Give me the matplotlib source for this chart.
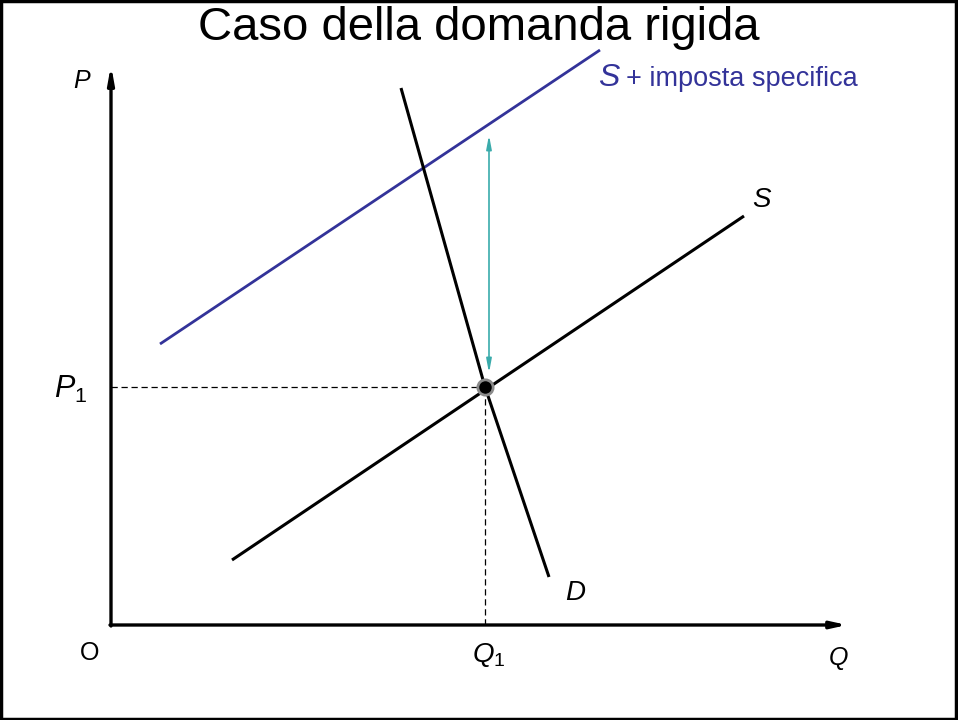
import matplotlib
matplotlib.use("Agg")
import matplotlib.pyplot as plt
from matplotlib.patches import Rectangle

plt.rcParams["font.family"] = ["Liberation Sans", "DejaVu Sans"]
plt.rcParams["mathtext.fontset"] = "custom"
plt.rcParams["mathtext.rm"] = "Liberation Sans"
plt.rcParams["mathtext.it"] = "Liberation Sans:italic"

# diagram data (Q, P)
axis_q_max = 73.6
axis_p_max = 56.0
supply_q = [12.1, 63.3]
supply_p = [6.5, 40.9]
taxed_q = [4.9, 48.9]
taxed_p = [28.1, 57.5]
demand_q = [29.0, 37.4, 43.8]
demand_p = [53.7, 23.8, 4.8]
eq_q = 37.4
eq_p = 23.8
tax_arrow_q = 37.8
tax_arrow_p = [25.2, 49.0]

BLUE = "#333399"
TEAL = "#3aabab"

fig = plt.figure(figsize=(9.58, 7.2), dpi=100)
ax = fig.add_axes([0, 0, 1, 1])
ax.set_xlim(-11.1, 84.7)
ax.set_ylim(-9.5, 62.5)
ax.axis("off")

# axes with arrows
ax.annotate("", xy=(0, axis_p_max), xytext=(0, -0.1),
            arrowprops=dict(arrowstyle="-|>,head_length=1.0,head_width=0.18",
                            lw=2.4, color="black", shrinkA=0, shrinkB=0))
ax.annotate("", xy=(axis_q_max, 0), xytext=(-0.1, 0),
            arrowprops=dict(arrowstyle="-|>,head_length=0.9,head_width=0.2",
                            lw=2.4, color="black", shrinkA=0, shrinkB=0))

# dashed guides
ax.plot([0, eq_q], [eq_p, eq_p], color="black", lw=0.9, ls=(0, (5, 3)))
ax.plot([eq_q, eq_q], [0, eq_p], color="black", lw=0.9, ls=(0, (5, 3)))

# curves
ax.plot(supply_q, supply_p, color="black", lw=2.2, solid_capstyle="butt")
ax.plot(taxed_q, taxed_p, color=BLUE, lw=2.0, solid_capstyle="butt")
ax.plot(demand_q, demand_p, color="black", lw=2.2, solid_capstyle="butt")

# tax arrow
ax.annotate("", xy=(tax_arrow_q, tax_arrow_p[1]), xytext=(tax_arrow_q, tax_arrow_p[0]),
            arrowprops=dict(arrowstyle="<|-|>,head_length=0.8,head_width=0.15",
                            lw=1.2, color=TEAL, shrinkA=0, shrinkB=0))

# equilibrium
ax.plot([eq_q], [eq_p], "o", ms=11, mfc="black", mec="#8a8a8a", mew=2.0, zorder=5)

# labels
ax.text(-2.9, 54.4, "$P$", fontsize=18, ha="center", va="center")
ax.text(-4.0, 23.6, "$P_1$", fontsize=22, ha="center", va="center")
ax.text(-2.1, -2.8, "O", fontsize=18, ha="center", va="center")
ax.text(eq_q + 0.4, -3.0, "$Q_1$", fontsize=20, ha="center", va="center")
ax.text(72.7, -3.3, "$Q$", fontsize=18, ha="center", va="center")
ax.text(46.5, 3.2, "$D$", fontsize=20, ha="center", va="center")
ax.text(65.1, 42.5, "$S$", fontsize=20, ha="center", va="center")
ax.text(48.7, 53.9, "$S$", fontsize=23, color=BLUE, ha="left", va="baseline")
ax.text(51.5, 53.9, "+ imposta specifica", fontsize=19.5, color=BLUE,
        ha="left", va="baseline")

fig.text(0.5, 1 - 28 / 720, "Caso della domanda rigida", fontsize=34,
         ha="center", va="center")

fig.patches.append(Rectangle((0.001, 0.002), 0.997, 0.996, transform=fig.transFigure,
                             fill=False, lw=2.5, edgecolor="black"))

fig.savefig("out.png", dpi=100)
